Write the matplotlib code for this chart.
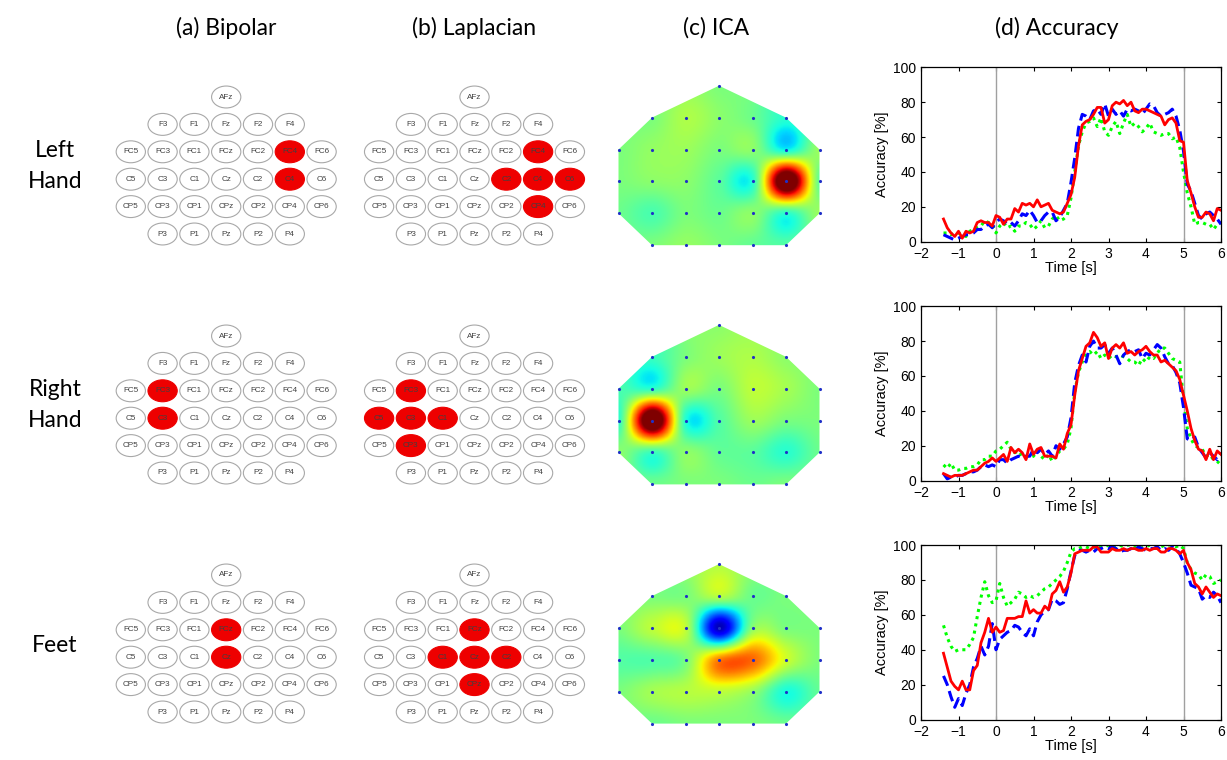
import numpy as np
import matplotlib
matplotlib.use('Agg')
import matplotlib.pyplot as plt
from matplotlib.patches import Ellipse, Polygon

W, H = 1227, 760

# electrode layout, row by row (front to back)
electrodes = [
    ['AFz'],
    ['F3', 'F1', 'Fz', 'F2', 'F4'],
    ['FC5', 'FC3', 'FC1', 'FCz', 'FC2', 'FC4', 'FC6'],
    ['C5', 'C3', 'C1', 'Cz', 'C2', 'C4', 'C6'],
    ['CP5', 'CP3', 'CP1', 'CPz', 'CP2', 'CP4', 'CP6'],
    ['P3', 'P1', 'Pz', 'P2', 'P4'],
]

titles = ['(a) Bipolar', '(b) Laplacian', '(c) ICA', '(d) Accuracy']
classes = ['Left\nHand', 'Right\nHand', 'Feet']

bipolar_sel = [['FC4', 'C4'], ['FC3', 'C3'], ['FCz', 'Cz']]
laplacian_sel = [['FC4', 'C2', 'C4', 'C6', 'CP4'],
                 ['FC3', 'C5', 'C3', 'C1', 'CP3'],
                 ['FCz', 'C1', 'Cz', 'C2', 'CPz']]

# ICA spatial pattern weights (colour scale 0..1), electrode order as above
ica_left = [0.50,
            0.50, 0.56, 0.52, 0.48, 0.40,
            0.50, 0.53, 0.54, 0.50, 0.52, 0.36, 0.54,
            0.50, 0.52, 0.52, 0.46, 0.40, 1.14, 0.46,
            0.48, 0.44, 0.50, 0.48, 0.52, 0.41, 0.54,
            0.50, 0.53, 0.50, 0.47, 0.45]
ica_right = [0.52,
             0.42, 0.50, 0.54, 0.56, 0.52,
             0.44, 0.40, 0.54, 0.50, 0.58, 0.55, 0.50,
             0.41, 1.14, 0.39, 0.45, 0.54, 0.50, 0.50,
             0.52, 0.43, 0.52, 0.47, 0.46, 0.40, 0.48,
             0.48, 0.50, 0.50, 0.48, 0.50]
ica_feet = [0.57,
            0.50, 0.50, 0.57, 0.48, 0.50,
            0.50, 0.58, 0.58, 0.05, 0.52, 0.50, 0.50,
            0.45, 0.45, 0.50, 0.78, 0.80, 0.60, 0.50,
            0.50, 0.55, 0.57, 0.58, 0.53, 0.38, 0.47,
            0.48, 0.50, 0.50, 0.50, 0.48]
ica_maps = [ica_left, ica_right, ica_feet]

# classification accuracy [%], t = -1.4 .. 6.0 s in 0.1 s steps
t = np.round(np.arange(-1.4, 6.05, 0.1), 1)

left_bip = [4, 3, 2, 1, 2, 3, 4, 4, 5, 7,
            7, 9, 10, 8, 11, 13, 12, 10, 11, 9,
            12, 16, 15, 18, 15, 11, 12, 15, 17, 17,
            12, 14, 18, 22, 34, 48, 65, 73, 72, 70,
            75, 76, 73, 79, 72, 76, 73, 75, 72, 76,
            75, 76, 75, 73, 76, 79, 78, 74, 72, 73,
            74, 76, 72, 64, 52, 33, 29, 22, 15, 13,
            16, 17, 15, 13, 10]
left_lap = [13, 8, 5, 3, 6, 2, 6, 5, 6, 11,
            12, 11, 11, 9, 15, 14, 10, 13, 13, 19,
            17, 22, 21, 22, 20, 24, 20, 21, 22, 18,
            17, 16, 17, 22, 27, 37, 55, 67, 69, 70,
            73, 77, 77, 68, 70, 78, 80, 79, 81, 78,
            80, 75, 74, 76, 76, 75, 74, 73, 72, 67,
            70, 71, 68, 58, 57, 35, 28, 20, 14, 14,
            17, 16, 12, 19, 18]
left_ica = [5, 5, 4, 5, 5, 4, 3, 6, 7, 8,
            9, 12, 11, 10, 5, 9, 11, 8, 9, 6,
            9, 9, 11, 10, 7, 9, 12, 8, 9, 13,
            15, 12, 13, 15, 25, 40, 55, 63, 68, 69,
            71, 66, 71, 63, 61, 66, 69, 62, 68, 73,
            66, 68, 66, 63, 65, 68, 63, 62, 61, 62,
            62, 59, 60, 54, 40, 28, 20, 10, 11, 11,
            10, 10, 7, 10, 11]

right_bip = [4, 1, 2, 2, 3, 3, 4, 5, 5, 6,
             8, 9, 8, 9, 8, 12, 12, 10, 12, 13,
             14, 13, 14, 14, 18, 16, 18, 15, 17, 14,
             20, 18, 21, 25, 36, 56, 66, 72, 68, 77,
             80, 76, 76, 78, 73, 76, 72, 67, 72, 74,
             75, 74, 75, 70, 73, 72, 75, 78, 76, 71,
             67, 66, 62, 56, 42, 24, 23, 25, 19, 16,
             13, 16, 14, 12, 16]
right_lap = [4, 3, 2, 3, 3, 3, 4, 5, 6, 6,
             8, 10, 11, 13, 11, 13, 15, 11, 19, 16,
             18, 16, 12, 21, 15, 18, 19, 14, 14, 14,
             13, 21, 18, 27, 32, 49, 63, 70, 77, 79,
             85, 82, 77, 79, 70, 76, 78, 76, 79, 73,
             74, 72, 74, 75, 77, 74, 72, 72, 68, 69,
             67, 65, 63, 58, 49, 40, 30, 23, 18, 17,
             12, 18, 12, 17, 15]
right_ica = [9, 7, 10, 6, 6, 7, 7, 8, 8, 9,
             12, 12, 14, 14, 17, 18, 20, 22, 18, 16,
             17, 14, 14, 13, 14, 17, 14, 12, 15, 11,
             14, 17, 18, 21, 30, 51, 62, 68, 73, 74,
             72, 74, 70, 72, 70, 72, 71, 72, 71, 70,
             68, 68, 66, 70, 68, 71, 70, 73, 76, 76,
             73, 70, 69, 68, 46, 30, 24, 20, 19, 18,
             14, 15, 12, 11, 9]

feet_bip = [25, 20, 13, 7, 12, 8, 15, 20, 30, 35,
            42, 37, 42, 55, 40, 46, 48, 50, 51, 54,
            53, 50, 48, 52, 48, 56, 60, 62, 63, 69,
            68, 66, 67, 75, 85, 94, 97, 97, 96, 97,
            96, 98, 98, 99, 98, 99, 98, 96, 97, 97,
            98, 97, 99, 98, 97, 98, 98, 99, 97, 98,
            97, 99, 98, 95, 90, 84, 77, 76, 75, 69,
            71, 70, 73, 71, 67]
feet_lap = [38, 30, 22, 19, 17, 22, 17, 17, 28, 31,
            44, 50, 58, 50, 53, 50, 51, 58, 58, 58,
            59, 59, 68, 61, 63, 61, 61, 65, 63, 72,
            74, 79, 73, 76, 84, 95, 96, 97, 97, 97,
            99, 99, 96, 96, 96, 98, 97, 97, 98, 97,
            98, 98, 97, 97, 98, 97, 98, 98, 96, 96,
            98, 98, 97, 95, 97, 90, 86, 78, 76, 72,
            76, 73, 70, 72, 71]
feet_ica = [54, 47, 42, 39, 40, 40, 40, 43, 47, 59,
            70, 79, 71, 67, 68, 78, 70, 65, 67, 69,
            73, 72, 70, 71, 70, 71, 73, 75, 76, 78,
            80, 82, 85, 90, 96, 98, 98, 99, 99, 98,
            99, 98, 99, 99, 100, 100, 99, 100, 99, 100,
            100, 99, 100, 100, 99, 100, 100, 100, 99, 100,
            100, 100, 99, 100, 98, 90, 86, 84, 83, 80,
            83, 82, 78, 79, 80]

accuracy = [(left_ica, left_bip, left_lap),
            (right_ica, right_bip, right_lap),
            (feet_ica, feet_bip, feet_lap)]


def pix_axes(fig, x0, y0, x1, y1):
    return fig.add_axes([x0 / W, 1 - y1 / H, (x1 - x0) / W, (y1 - y0) / H])


def positions():
    for r, row in enumerate(electrodes):
        off = (7 - len(row)) // 2
        for c, name in enumerate(row):
            yield name, off + c, r


def to_grid(vals):
    g = np.full((6, 7), np.nan)
    for v, (name, c, r) in zip(vals, positions()):
        g[r, c] = v
    # fill the empty corners from their neighbours
    while np.isnan(g).any():
        g2 = g.copy()
        for r in range(6):
            for c in range(7):
                if np.isnan(g[r, c]):
                    nb = [g[rr, cc] for rr, cc in ((r - 1, c), (r + 1, c), (r, c - 1), (r, c + 1))
                          if 0 <= rr < 6 and 0 <= cc < 7 and not np.isnan(g[rr, cc])]
                    if nb:
                        g2[r, c] = np.mean(nb)
        g = g2
    return g


def kern(s, a=-0.5):
    s = abs(s)
    if s <= 1:
        return (a + 2) * s ** 3 - (a + 3) * s ** 2 + 1
    if s < 2:
        return a * s ** 3 - 5 * a * s ** 2 + 8 * a * s - 4 * a
    return 0.0


def interp_matrix(n, xf):
    # cubic convolution weights, edges clamped
    M = np.zeros((len(xf), n))
    for i, x in enumerate(xf):
        b = int(np.floor(x))
        for j in range(b - 1, b + 3):
            M[i, min(max(j, 0), n - 1)] += kern(x - j)
    return M


def draw_montage(ax, selected):
    for name, c, r in positions():
        on = name in selected
        ax.add_patch(Ellipse((c, r), 0.92, 0.80, facecolor='#EE0000' if on else 'white',
                             edgecolor='#EE0000' if on else '#A8A8A8', lw=0.8))
        ax.text(c, r, name, ha='center', va='center', fontsize=5.9,
                color='#404040', family='Liberation Sans')
    ax.set_xlim(-0.5, 6.5)
    ax.set_ylim(5.5, -0.5)
    ax.axis('off')


def draw_ica(ax, vals):
    g = to_grid(vals)
    xf = np.linspace(-0.5, 6.5, 281)
    yf = np.linspace(-0.5, 5.5, 241)
    fine = interp_matrix(6, yf) @ g @ interp_matrix(7, xf).T
    img = ax.imshow(np.clip(fine, 0, 1), cmap='jet', vmin=0, vmax=1, interpolation='bilinear',
                    extent=(-0.5, 6.5, 5.5, -0.5), aspect='auto')
    hull = Polygon([(3, 0), (5, 1), (6, 2), (6, 4), (5, 5), (1, 5), (0, 4), (0, 2), (1, 1)],
                   closed=True, facecolor='none', edgecolor='none', transform=ax.transData)
    ax.add_patch(hull)
    img.set_clip_path(hull)
    cs = [c for _, c, _ in positions()]
    rs = [r for _, _, r in positions()]
    ax.plot(cs, rs, '.', color='#2030C8', ms=2.5)
    ax.set_xlim(-0.5, 6.5)
    ax.set_ylim(5.5, -0.5)
    ax.axis('off')


fig = plt.figure(figsize=(W / 100, H / 100), dpi=100)

title_x = [226, 474, 716, 1057]
for tx, title in zip(title_x, titles):
    fig.text(tx / W, 1 - 28 / H, title, ha='center', va='center', fontsize=16.5, family='Lato')

label_y = [166, 405, 645]
for ly, lab in zip(label_y, classes):
    fig.text(55 / W, 1 - ly / H, lab, ha='center', va='center', fontsize=16.5,
             family='Lato', linespacing=1.55)

dx, dy = 31.8, 27.4
for i in range(3):
    cy = 97 + 239 * i
    for cx, sel in ((226.2, bipolar_sel[i]), (474.5, laplacian_sel[i])):
        ax = pix_axes(fig, cx - 3.5 * dx, cy - 0.5 * dy, cx + 3.5 * dx, cy + 5.5 * dy)
        draw_montage(ax, sel)

    ix, iy = 33.5, 31.9
    cx, cy = 719, 85.7 + 239.2 * i
    ax = pix_axes(fig, cx - 3.5 * ix, cy - 0.5 * iy, cx + 3.5 * ix, cy + 5.5 * iy)
    draw_ica(ax, ica_maps[i])

    top = 67.3 + 238.9 * i
    ax = pix_axes(fig, 921, top, 1221, top + 174.4)
    ica, bip, lap = accuracy[i]
    ax.axvline(0, color='#A0A0A0', lw=1)
    ax.axvline(5, color='#A0A0A0', lw=1)
    ax.plot(t, ica, color='#00FF00', lw=2.2, ls=(0, (1, 1.4)))
    ax.plot(t, bip, color='#0000FF', lw=2.2, ls=(0, (3.5, 1.8)))
    ax.plot(t, lap, color='#FF0000', lw=2.0)
    ax.set_xlim(-2, 6)
    ax.set_ylim(0, 100)
    ax.set_xticks(range(-2, 7))
    ax.set_yticks(range(0, 101, 20))
    ax.tick_params(direction='in', top=True, right=True, length=3, width=0.8, labelsize=10)
    ax.tick_params(axis='x', pad=4)
    ax.tick_params(axis='y', pad=3.5)
    for lab in ax.get_xticklabels() + ax.get_yticklabels():
        lab.set_family('Liberation Sans')
    for s in ax.spines.values():
        s.set_linewidth(0.9)
    ax.set_xlabel('Time [s]', fontsize=10.5, family='Liberation Sans', labelpad=0)
    ax.set_ylabel('Accuracy [%]', fontsize=10.5, family='Liberation Sans', labelpad=3)

fig.savefig('out.png', dpi=100)
